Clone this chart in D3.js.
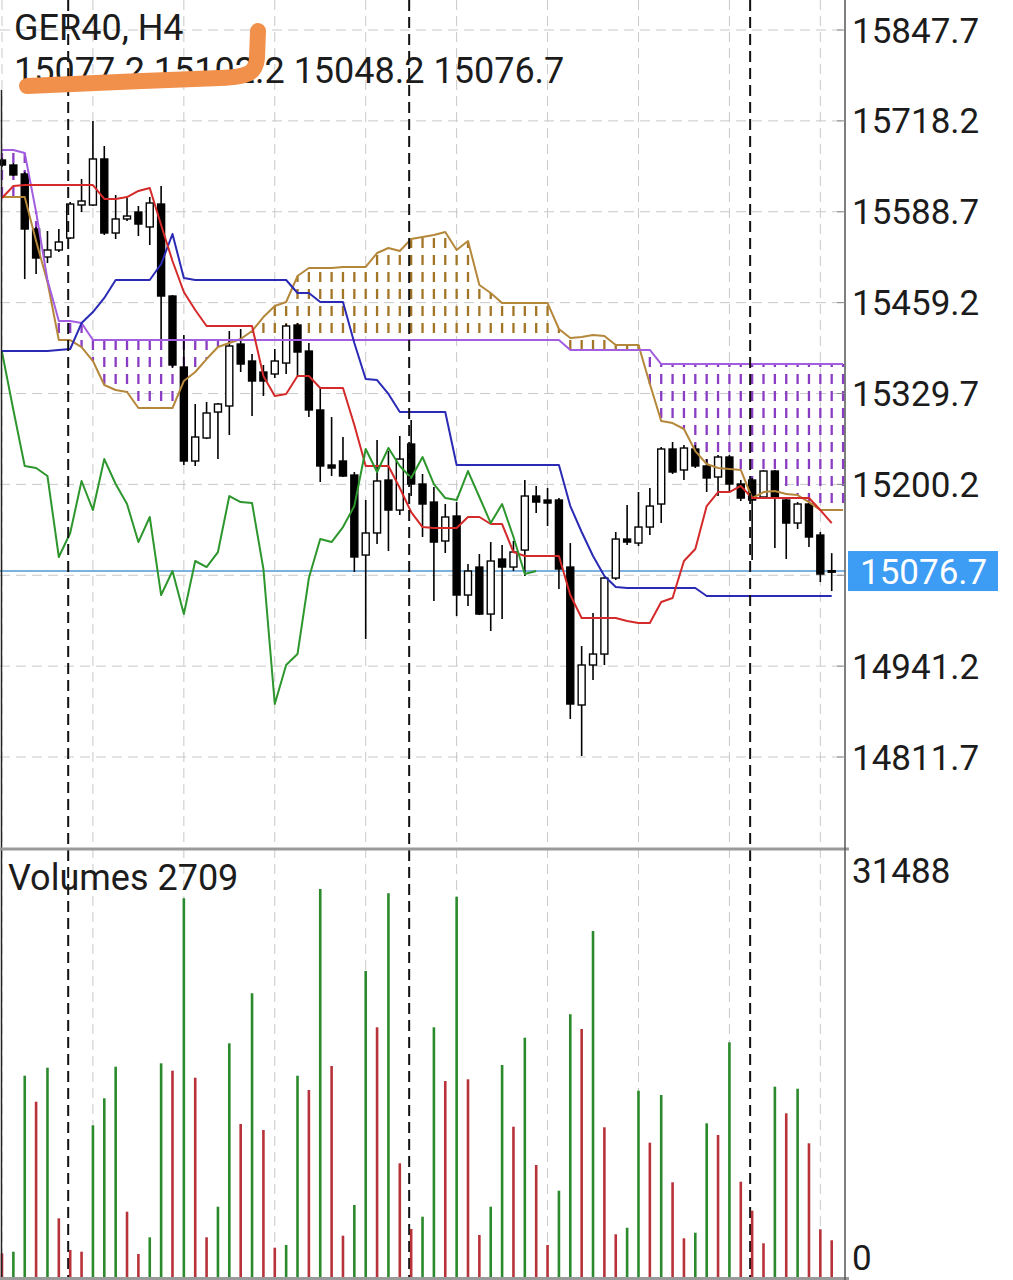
<!DOCTYPE html>
<html><head><meta charset="utf-8">
<script src="https://cdn.jsdelivr.net/npm/d3@7"></script>
<style>html,body{margin:0;padding:0;background:#fff;}svg{display:block;font-family:Roboto,"Noto Sans",sans-serif;}</style>
</head><body>
<svg id="chart" width="1013" height="1280"></svg>
<script>
// ---------------- data ----------------
const symbolTitle = "GER40, H4";
const ohlcTitle = "15077.2 15102.2 15048.2 15076.7";
const volumeTitle = "Volumes 2709";
const currentPrice = 15076.7;
const priceTicks = [15847.7, 15718.2, 15588.7, 15459.2, 15329.7, 15200.2, 15070.7, 14941.2, 14811.7];
const volumeTicks = [31488, 0];
const separatorBars = [6, 36, 66];

const opens = [15662.4,15655.3,15642.5,15564.1,15524.2,15534.2,15551.3,15598.3,15598.3,15663.9,
15558.4,15578.4,15588.3,15567.0,15599.7,15468.6,15367.4,15233.5,15266.3,15303.3,
15311.9,15400.2,15376.0,15360.3,15357.5,15373.1,15427.3,15390.2,15306.2,15227.8,
15233.5,15213.5,15099.5,15130.9,15206.4,15163.6,15257.7,15200.7,15175.0,15119.5,
15155.1,15042.5,15082.4,15015.4,15093.8,15082.4,15106.6,15183.6,15177.9,15177.9,
15082.4,14885.8,14942.8,14958.4,15066.7,15122.3,15116.6,15139.4,15172.2,15250.6,
15220.7,15250.6,15226.4,15210.7,15239.2,15200.7,15206.4,15182.2,15219.2,15177.9,
15145.1,15172.2,15128.0,15077.2];
const highs = [15665.3,15658.2,15645.3,15567.0,15561.3,15564.1,15602.6,15635.4,15718.0,15682.4,
15612.6,15608.3,15596.9,15609.7,15625.4,15470.0,15413.0,15314.7,15317.6,15316.1,
15418.7,15421.6,15386.0,15370.3,15393.1,15428.7,15430.1,15401.6,15337.5,15296.2,
15267.7,15217.8,15177.9,15263.4,15247.7,15269.1,15291.9,15215.0,15196.4,15172.2,
15175.0,15086.7,15100.9,15118.0,15113.8,15119.5,15206.4,15197.9,15195.0,15180.7,
15116.6,14969.8,15016.9,15068.2,15132.3,15170.8,15189.3,15195.0,15253.4,15260.6,
15256.3,15256.3,15236.3,15242.0,15242.0,15206.4,15209.3,15220.7,15220.7,15180.7,
15175.0,15175.0,15132.3,15102.2];
const lows = [15652.5,15639.6,15492.8,15500.0,15515.6,15531.3,15549.9,15588.3,15596.9,15555.6,
15549.9,15575.5,15554.1,15541.3,15407.3,15366.0,15227.8,15226.4,15264.8,15236.3,
15270.5,15360.3,15297.6,15326.1,15351.8,15357.5,15354.6,15296.2,15203.6,15212.1,
15210.7,15075.3,14979.8,15115.2,15105.2,15156.5,15183.6,15125.2,15034.0,15102.4,
15012.6,15026.8,15014.0,14991.2,15008.3,15076.7,15069.6,15159.4,15140.8,15051.1,
14865.8,14813.1,14921.4,14942.8,15063.9,15113.8,15112.3,15128.0,15145.1,15215.0,
15206.4,15223.5,15189.3,15183.6,15189.3,15176.5,15092.4,15180.7,15109.5,15093.8,
15136.6,15110.9,15061.0,15048.2];
const closes = [15655.3,15641.1,15564.1,15522.8,15534.2,15545.6,15599.7,15604.0,15663.9,15558.4,
15578.4,15582.6,15571.2,15601.2,15468.6,15370.3,15233.5,15267.7,15301.9,15314.7,
15397.4,15371.7,15347.5,15347.5,15376.0,15425.9,15388.8,15306.2,15226.4,15223.5,
15212.1,15096.7,15130.9,15205.0,15163.6,15236.3,15200.7,15172.2,15118.0,15153.7,
15042.5,15076.7,15015.4,15091.0,15082.4,15103.8,15183.6,15175.0,15173.6,15079.6,
14887.2,14942.8,14958.4,15066.7,15122.3,15118.0,15139.4,15169.3,15250.6,15217.8,
15252.0,15226.4,15209.3,15239.2,15200.7,15180.7,15177.9,15219.2,15182.2,15145.1,
15172.2,15125.2,15072.4,15076.7];
const volumes = [1748,1866,14844,12927,15434,4329,1991,1866,11186,13177,
15508,4815,1696,2927,15758,15213,27925,14697,2927,5184,
17233,11282,20920,10840,2161,2360,14844,13789,28611,15559,
3046,5309,22564,18413,28294,8384,3539,4447,18413,14453,
28043,14578,3097,5184,15633,11083,17646,8259,2360,6364,
19371,18288,25514,11039,3149,3635,13738,9903,13421,6983,
2854,3267,11334,10471,17307,7028,4889,2485,14033,12071,
13885,9859,3517,2709];
// Ichimoku
const tenkan = [15608.3,15625.4,15626.8,15626.8,15626.8,15626.8,15626.8,15626.8,15626.8,15606.9,
15606.9,15609.7,15618.3,15622.5,15569.8,15518.5,15474.3,15448.7,15425.9,15425.9,
15425.9,15425.9,15425.9,15354.6,15326.1,15329.0,15354.6,15354.6,15337.5,15337.5,
15337.5,15284.8,15226.4,15226.4,15226.4,15195.0,15160.8,15139.4,15138.0,15138.0,
15138.0,15153.7,15153.7,15143.7,15143.7,15103.8,15098.1,15098.1,15098.1,15098.1,
15042.5,15009.7,15009.7,15009.7,15009.7,15005.5,15002.6,15002.6,15032.5,15038.2,
15091.0,15108.1,15169.3,15189.3,15189.3,15197.9,15180.7,15180.7,15180.7,15180.7,
15180.7,15180.7,15163.6,15145.1];
const kijun = [15390.2,15390.2,15390.2,15390.2,15390.2,15391.7,15393.1,15430.1,15445.8,15465.8,
15491.4,15491.4,15491.4,15491.4,15514.2,15557.0,15494.3,15491.4,15491.4,15491.4,
15491.4,15491.4,15491.4,15491.4,15491.4,15491.4,15472.9,15472.9,15460.1,15460.1,
15460.1,15401.6,15350.3,15348.9,15329.0,15303.3,15303.3,15303.3,15303.3,15303.3,
15227.8,15227.8,15227.8,15227.8,15227.8,15227.8,15227.8,15227.8,15227.8,15227.8,
15169.3,15132.3,15098.1,15069.6,15053.9,15052.5,15052.5,15052.5,15052.5,15052.5,
15052.5,15052.5,15041.1,15041.1,15041.1,15041.1,15041.1,15041.1,15041.1,15041.1,
15041.1,15041.1,15041.1,15041.1];
const chikou = [15388.8,15306.2,15226.4,15223.5,15212.1,15096.7,15130.9,15205.0,15163.6,15236.3,
15200.7,15172.2,15118.0,15153.7,15042.5,15076.7,15015.4,15091.0,15082.4,15103.8,
15183.6,15175.0,15173.6,15079.6,14887.2,14942.8,14958.4,15066.7,15122.3,15118.0,
15139.4,15169.3,15250.6,15217.8,15252.0,15226.4,15209.3,15239.2,15200.7,15180.7,
15177.9,15219.2,15182.2,15145.1,15172.2,15125.2,15072.4,15076.7];
const senkouA = [15609.7,15609.7,15609.7,15547.0,15488.6,15405.9,15405.9,15395.9,15376.0,15341.8,
15334.7,15331.8,15309.0,15309.0,15309.0,15309.0,15347.5,15360.3,15378.8,15395.9,
15401.6,15407.3,15418.7,15438.7,15454.4,15460.1,15497.1,15508.5,15508.5,15508.5,
15510.0,15510.0,15510.0,15529.9,15537.0,15532.8,15549.9,15552.7,15555.6,15559.8,
15534.2,15547.0,15484.3,15472.9,15458.6,15458.6,15458.6,15458.6,15458.6,15421.6,
15408.8,15410.2,15413.0,15411.6,15398.8,15398.8,15398.8,15343.2,15290.5,15287.6,
15279.1,15247.7,15229.2,15223.5,15222.1,15220.7,15180.7,15189.3,15190.7,15186.5,
15185.0,15175.0,15163.6,15163.6,15163.6];
const senkouB = [15676.7,15676.7,15672.4,15588.3,15491.4,15433.0,15433.0,15430.1,15405.9,15405.9,
15405.9,15405.9,15405.9,15405.9,15405.9,15405.9,15405.9,15405.9,15405.9,15405.9,
15405.9,15405.9,15405.9,15405.9,15405.9,15405.9,15405.9,15405.9,15405.9,15405.9,
15405.9,15405.9,15405.9,15405.9,15405.9,15405.9,15405.9,15405.9,15405.9,15405.9,
15405.9,15405.9,15405.9,15405.9,15405.9,15405.9,15405.9,15405.9,15405.9,15405.9,
15391.7,15391.7,15391.7,15391.7,15391.7,15391.7,15391.7,15391.7,15371.7,15371.7,
15371.7,15371.7,15371.7,15371.7,15371.7,15371.7,15371.7,15371.7,15371.7,15371.7,
15371.7,15371.7,15371.7,15371.7,15371.7];

// ---------------- layout ----------------
const W = 1013, H = 1280;
const plotRight = 845;
const x = d3.scaleLinear().domain([0, 73]).range([2, 831.7]);
const y = d3.scaleLinear().domain([14811.7, 15847.7]).range([757, 30]);
const yv = d3.scaleLinear().domain([0, 31488]).range([1277, 850]);

const C = {
  grid: "#c9c9c9", sep: "#111", priceLine: "#7db2e0", tag: "#3d9cf4",
  tenkan: "#d42a2a", kijun: "#2a2ab5", chikou: "#2d962d",
  spanA: "#b5873a", spanB: "#a35ee0", hatchA: "#a37526", hatchB: "#8a3cc2",
  volUp: "#2b8a2b", volDown: "#b8323a", axis: "#555", panelLine: "#9a9a9a", text: "#1c1c1c"
};

const svg = d3.select("#chart");
svg.append("rect").attr("width", W).attr("height", H).attr("fill", "#fff");

svg.append("defs").append("clipPath").attr("id", "plotClip")
  .append("rect").attr("x", 0).attr("y", 0).attr("width", plotRight).attr("height", 848);

// grid
const gGrid = svg.append("g");
gGrid.selectAll("line.h").data(priceTicks).join("line")
  .attr("x1", 0).attr("x2", plotRight).attr("y1", d => y(d)).attr("y2", d => y(d))
  .attr("stroke", C.grid).attr("stroke-width", 1).attr("stroke-dasharray", "10,6");
const vGridBars = d3.range(0, 74, 8);
gGrid.selectAll("line.v").data(vGridBars).join("line")
  .attr("x1", d => x(d)).attr("x2", d => x(d)).attr("y1", 0).attr("y2", 1277)
  .attr("stroke", C.grid).attr("stroke-width", 1).attr("stroke-dasharray", "10,6");

const plot = svg.append("g").attr("clip-path", "url(#plotClip)");

// cloud hatching
const cloud = senkouA.map((a, i) => ({i, a, b: senkouB[i]}));
plot.append("g").selectAll("line").data(cloud).join("line")
  .attr("x1", d => x(d.i)).attr("x2", d => x(d.i))
  .attr("y1", d => Math.min(y(d.a), y(d.b))).attr("y2", d => Math.max(y(d.a), y(d.b)))
  .attr("stroke", d => d.a > d.b ? C.hatchA : C.hatchB)
  .attr("stroke-width", 2.3).attr("stroke-dasharray", "10,7")
  .attr("stroke-dashoffset", d => Math.min(y(d.a), y(d.b)) % 17);

// period separators
svg.append("g").selectAll("line").data(separatorBars).join("line")
  .attr("x1", d => x(d) - 2).attr("x2", d => x(d) - 2).attr("y1", 0).attr("y2", 1277)
  .attr("stroke", C.sep).attr("stroke-width", 2).attr("stroke-dasharray", "11,6");

// current price line
plot.append("line").attr("x1", 0).attr("x2", plotRight)
  .attr("y1", y(currentPrice)).attr("y2", y(currentPrice))
  .attr("stroke", C.priceLine).attr("stroke-width", 2);

// candles
const candles = opens.map((o, i) => ({i, o, h: highs[i], l: lows[i], c: closes[i]}));
const gC = plot.append("g");
gC.selectAll("line").data(candles).join("line")
  .attr("x1", d => x(d.i)).attr("x2", d => x(d.i))
  .attr("y1", d => y(d.h)).attr("y2", d => y(d.l))
  .attr("stroke", "#000").attr("stroke-width", 1.6);
const bw = 7;
gC.selectAll("rect").data(candles).join("rect")
  .attr("x", d => x(d.i) - bw / 2)
  .attr("y", d => y(Math.max(d.o, d.c)))
  .attr("width", bw)
  .attr("height", d => Math.max(1.5, Math.abs(y(d.o) - y(d.c))))
  .attr("fill", d => d.c >= d.o ? "#fff" : "#000")
  .attr("stroke", "#000").attr("stroke-width", 1.4);

// ichimoku lines
const line = d3.line().x((d, i) => x(i)).y(d => y(d));
[[senkouA, C.spanA], [senkouB, C.spanB], [kijun, C.kijun], [tenkan, C.tenkan], [chikou, C.chikou]]
  .forEach(([arr, col]) => {
    plot.append("path").datum(arr).attr("d", line)
      .attr("fill", "none").attr("stroke", col).attr("stroke-width", 2)
      .attr("stroke-linejoin", "round");
  });

// volume bars
svg.append("g").selectAll("line").data(volumes).join("line")
  .attr("x1", (d, i) => x(i)).attr("x2", (d, i) => x(i))
  .attr("y1", yv(0)).attr("y2", d => yv(d))
  .attr("stroke", (d, i) => (i > 0 && d > volumes[i - 1]) ? C.volUp : C.volDown)
  .attr("stroke-width", 2.6);

// borders
svg.append("line").attr("x1", 1.5).attr("x2", 1.5).attr("y1", 90).attr("y2", H)
  .attr("stroke", "#222").attr("stroke-width", 1.5);
svg.append("line").attr("x1", 0).attr("x2", plotRight + 4).attr("y1", 849).attr("y2", 849)
  .attr("stroke", C.panelLine).attr("stroke-width", 3);
svg.append("line").attr("x1", 0).attr("x2", plotRight + 4).attr("y1", 1278.5).attr("y2", 1278.5)
  .attr("stroke", C.panelLine).attr("stroke-width", 3);
svg.append("line").attr("x1", plotRight).attr("x2", plotRight).attr("y1", 0).attr("y2", H)
  .attr("stroke", C.axis).attr("stroke-width", 1.5);

// price axis labels
const fs = 35;
const yCur = y(currentPrice);
const gAx = svg.append("g");
gAx.selectAll("line").data(priceTicks).join("line")
  .attr("x1", plotRight - 8).attr("x2", plotRight).attr("y1", d => y(d)).attr("y2", d => y(d))
  .attr("stroke", "#888").attr("stroke-width", 1);
gAx.selectAll("text").data(priceTicks.filter(d => Math.abs(y(d) - yCur) > 22)).join("text")
  .attr("x", 852).attr("y", d => y(d) + 12.5)
  .attr("font-size", fs).attr("fill", C.text).text(d => d.toFixed(1));

// current price tag
svg.append("rect").attr("x", 848).attr("y", yCur - 20).attr("width", 150).attr("height", 40)
  .attr("fill", C.tag);
svg.append("text").attr("x", 860).attr("y", yCur + 12.5).attr("font-size", fs)
  .attr("fill", "#fff").text(currentPrice.toFixed(1));

// volume axis labels
svg.append("text").attr("x", 852).attr("y", 883).attr("font-size", fs).attr("fill", C.text).text(volumeTicks[0]);
svg.append("text").attr("x", 852).attr("y", 1270).attr("font-size", fs).attr("fill", C.text).text(volumeTicks[1]);

// titles
svg.append("text").attr("x", 14).attr("y", 40).attr("font-size", 36).attr("fill", C.text).text(symbolTitle);
svg.append("text").attr("x", 14).attr("y", 83).attr("font-size", 36).attr("fill", C.text).text(ohlcTitle);
svg.append("text").attr("x", 8).attr("y", 890).attr("font-size", 36).attr("fill", C.text).text(volumeTitle);

// orange highlighter scribble over the header
svg.append("path")
  .attr("d", "M27,86 C80,84 160,80 220,78 C250,77 256,72 257,58 L258,31")
  .attr("fill", "none").attr("stroke", "#f0904a").attr("stroke-width", 16)
  .attr("stroke-linecap", "round").attr("stroke-linejoin", "round");
</script>
</body></html>
